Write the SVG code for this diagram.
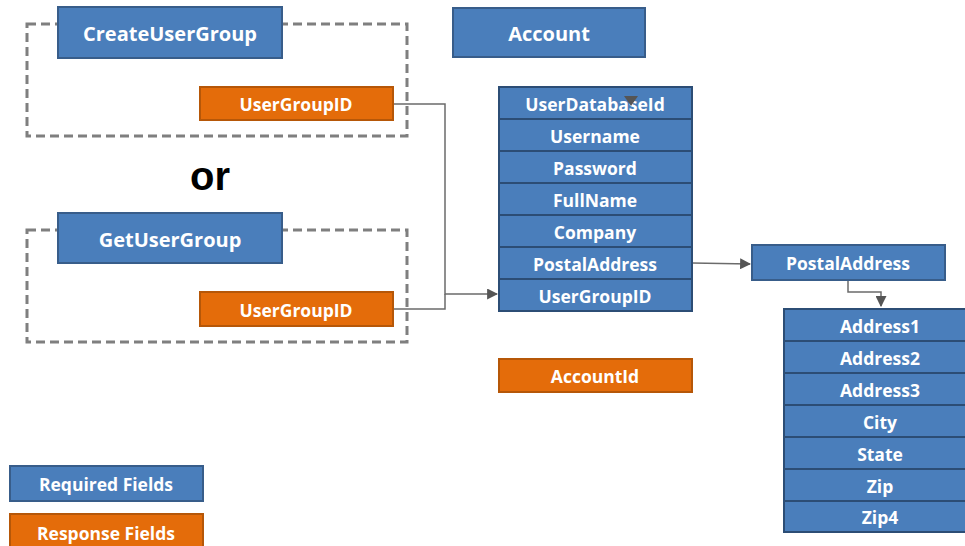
<svg xmlns="http://www.w3.org/2000/svg" width="965" height="546" viewBox="0 0 965 546">
  <defs>
    <style>
      .req { fill: #4A7EBB; stroke: #385D8A; stroke-width: 2; }
      .resp { fill: #E46C0A; stroke: #B65708; stroke-width: 2; }
      .row { fill: #4A7EBB; stroke: #2C4D75; stroke-width: 2; }
      .lbl { font-family: "Open Sans", "Liberation Sans", sans-serif; font-weight: bold; fill: #ffffff; text-anchor: middle; dominant-baseline: central; }
      .big { font-size: 20px; }
      .sm { font-size: 17.5px; }
      .grp { fill: none; stroke: #7F7F7F; stroke-width: 3; stroke-dasharray: 9 5; }
      .conn { fill: none; stroke: #6B6B6B; stroke-width: 1.5; }
    </style>
    <marker id="arrow" viewBox="0 0 10 10" refX="9" refY="5" markerWidth="11" markerHeight="11" markerUnits="userSpaceOnUse" orient="auto">
      <path d="M0,0 L10,5 L0,10 z" fill="#555555"/>
    </marker>
  </defs>

  <rect width="965" height="546" fill="#ffffff"/>

  <!-- dashed grouping frames -->
  <g id="frames">
    <rect class="grp" x="27" y="24" width="380" height="112"/>
    <rect class="grp" x="27" y="230" width="380" height="112"/>
  </g>

  <!-- connectors -->
  <g id="connectors">
    <polyline class="conn" points="393,104 445,104 445,294 497,294" marker-end="url(#arrow)"/>
    <polyline class="conn" points="393,309 445,309 445,294"/>
    <polyline class="conn" points="692,263 750,264" marker-end="url(#arrow)"/>
    <polyline class="conn" points="848,280 848,292 881,292 881,306" marker-end="url(#arrow)"/>
  </g>

  <g id="create-user-group">
    <rect class="req" x="58" y="7" width="224" height="51"/>
    <text class="lbl big" x="170" y="33">CreateUserGroup</text>
  </g>
  <g id="create-usergroupid">
    <rect class="resp" x="200" y="87" width="193" height="33"/>
    <text class="lbl sm" x="296" y="104">UserGroupID</text>
  </g>

  <g id="or-label">
    <text x="210" y="190" font-family="Liberation Sans, Arial, sans-serif" font-weight="bold" font-size="40" fill="#000000" text-anchor="middle">or</text>
  </g>

  <g id="get-user-group">
    <rect class="req" x="58" y="213" width="224" height="50"/>
    <text class="lbl big" x="170" y="239">GetUserGroup</text>
  </g>
  <g id="get-usergroupid">
    <rect class="resp" x="200" y="292" width="193" height="34"/>
    <text class="lbl sm" x="296" y="310">UserGroupID</text>
  </g>

  <g id="account">
    <rect class="req" x="453" y="8" width="192" height="49"/>
    <text class="lbl big" x="549" y="33">Account</text>
  </g>

  <g id="account-fields">
    <rect class="row" x="499" y="87" width="193" height="32"/>
    <text class="lbl sm" x="595" y="104">UserDatabaseId</text>
    <rect class="row" x="499" y="119" width="193" height="32"/>
    <text class="lbl sm" x="595" y="136">Username</text>
    <rect class="row" x="499" y="151" width="193" height="32"/>
    <text class="lbl sm" x="595" y="168">Password</text>
    <rect class="row" x="499" y="183" width="193" height="32"/>
    <text class="lbl sm" x="595" y="200">FullName</text>
    <rect class="row" x="499" y="215" width="193" height="32"/>
    <text class="lbl sm" x="595" y="232">Company</text>
    <rect class="row" x="499" y="247" width="193" height="32"/>
    <text class="lbl sm" x="595" y="264">PostalAddress</text>
    <rect class="row" x="499" y="279" width="193" height="32"/>
    <text class="lbl sm" x="595" y="296">UserGroupID</text>
  </g>

  <!-- small arrowhead sitting over the first account row -->
  <path d="M624,96 L638,96 L631,106 z" fill="#555555"/>

  <g id="account-id">
    <rect class="resp" x="499" y="359" width="193" height="33"/>
    <text class="lbl sm" x="595" y="376">AccountId</text>
  </g>

  <g id="postal-address">
    <rect class="req" x="752" y="245" width="193" height="35"/>
    <text class="lbl sm" x="848" y="263">PostalAddress</text>
  </g>

  <g id="postal-fields">
    <rect class="row" x="784" y="309" width="193" height="32"/>
    <text class="lbl sm" x="880" y="326">Address1</text>
    <rect class="row" x="784" y="341" width="193" height="32"/>
    <text class="lbl sm" x="880" y="358">Address2</text>
    <rect class="row" x="784" y="373" width="193" height="32"/>
    <text class="lbl sm" x="880" y="390">Address3</text>
    <rect class="row" x="784" y="405" width="193" height="32"/>
    <text class="lbl sm" x="880" y="422">City</text>
    <rect class="row" x="784" y="437" width="193" height="32"/>
    <text class="lbl sm" x="880" y="454">State</text>
    <rect class="row" x="784" y="469" width="193" height="32"/>
    <text class="lbl sm" x="880" y="486">Zip</text>
    <rect class="row" x="784" y="501" width="193" height="31"/>
    <text class="lbl sm" x="880" y="517">Zip4</text>
  </g>

  <g id="legend-required">
    <rect class="req" x="10" y="466" width="193" height="35"/>
    <text class="lbl sm" x="106" y="484">Required Fields</text>
  </g>
  <g id="legend-response">
    <rect class="resp" x="10" y="514" width="193" height="36"/>
    <text class="lbl sm" x="106" y="533">Response Fields</text>
  </g>
</svg>
